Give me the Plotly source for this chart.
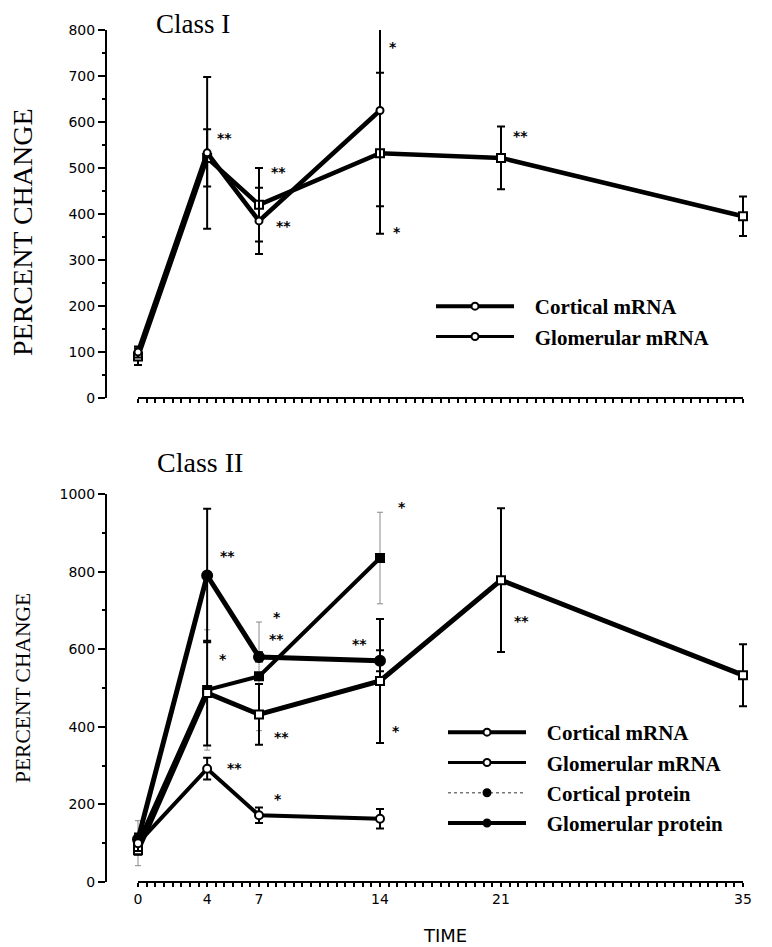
import plotly.graph_objects as go

# ---------------- data ----------------
days = [0, 4, 7, 14, 21, 35]
days_glom = [0, 4, 7, 14]

# Class I
c1_cortical_mrna = [90, 522, 420, 532, 522, 395]
c1_cortical_mrna_err = [18, 62, 80, 175, 68, 43]
c1_glomerular_mrna = [100, 533, 385, 625]
c1_glomerular_mrna_err = [12, 165, 72, 208]

# Class II
c2_cortical_mrna = [82, 487, 432, 518, 778, 533]
c2_cortical_mrna_err = [12, 135, 78, 160, 185, 80]
c2_glomerular_mrna = [100, 292, 172, 163]
c2_glomerular_mrna_err = [20, 28, 20, 25]
c2_cortical_protein = [100, 495, 530, 835]
c2_cortical_protein_err = [58, 155, 140, 118]
c2_glomerular_protein = [110, 790, 580, 570]
c2_glomerular_protein_err = [15, 172, 12, 27]

x_tick_labels = [0, 4, 7, 14, 21, 35]

# significance marks (day, value, text)
c1_marks = [(5.03, 574, "**"), (8.10, 500, "**"), (8.39, 383, "**"),
            (14.75, 772, "*"), (14.98, 370, "*"), (22.10, 578, "**"),
            (36.05, 441, "**")]
c2_marks = [(5.15, 851, "**"), (8.04, 693, "*"), (8.04, 637, "**"),
            (4.92, 585, "*"), (12.84, 624, "**"), (8.33, 384, "**"),
            (5.61, 304, "**"), (8.10, 224, "*"), (15.27, 977, "*"),
            (14.93, 399, "*"), (22.21, 683, "**"), (36.0, 490, "**")]

# ---------------- layout helpers ----------------
OFF = 8                      # page body margin
W, H = 764, 939
ML, MR, MT, MB = 99, 12, 22, 65
PW, PH = W - ML - MR, H - MT - MB


def px_x(p):                 # screen px -> paper x
    return (p - OFF - ML) / PW


def px_y(p):                 # screen px -> paper y
    return (H - MB - (p - OFF)) / PH


DAY_PX = (743 - 138) / 35.0
X0 = -(138 - OFF - ML) / DAY_PX
X1 = X0 + PW / DAY_PX

fig = go.Figure()


def add_series(x, y, err, xa, ya, symbol, size, lw, filled, err_color="black",
               err_w=2, cap=4):
    fig.add_trace(go.Scatter(
        x=x, y=y, xaxis=xa, yaxis=ya, mode="lines+markers", showlegend=False,
        line=dict(color="black", width=lw),
        marker=dict(symbol=symbol, size=size,
                    color="black" if filled else "white",
                    line=dict(color="black", width=2)),
        error_y=dict(type="data", array=err, visible=True, color=err_color,
                     thickness=err_w, width=cap),
        cliponaxis=True,
    ))


# Class I
add_series(days, c1_cortical_mrna, c1_cortical_mrna_err, "x", "y",
           "square", 8, 4.5, False)
add_series(days_glom, c1_glomerular_mrna, c1_glomerular_mrna_err, "x", "y",
           "circle", 7, 4.5, False)

# Class II
add_series(days_glom, c2_cortical_protein, c2_cortical_protein_err, "x2", "y2",
           "square", 8, 4, True, err_color="#8a8a8a", err_w=1, cap=3)
add_series(days_glom, c2_glomerular_protein, c2_glomerular_protein_err, "x2", "y2",
           "circle", 10, 5, True)
add_series(days, c2_cortical_mrna, c2_cortical_mrna_err, "x2", "y2",
           "square", 8, 5, False)
add_series(days_glom, c2_glomerular_mrna, c2_glomerular_mrna_err, "x2", "y2",
           "circle", 8, 4, False)

PAD = "\u00a0\u00a0\u00a0"


# legend samples
def legend_item(name, legend, lw, dash, filled, gray=False, group=None):
    fig.add_trace(go.Scatter(
        x=[None], y=[None], name=PAD + name, legend=legend, mode="lines+markers",
        legendgroup=group or name,
        line=dict(color="#777" if gray else "black", width=lw, dash=dash),
        marker=dict(symbol="circle", size=7,
                    color="black" if filled else "white",
                    line=dict(color="black", width=2)),
    ))


legend_item("Cortical mRNA", "legend", 4, "solid", False, group="a1")
legend_item("Glomerular mRNA", "legend", 3, "solid", False, group="a2")
legend_item("Cortical mRNA", "legend2", 4, "solid", False, group="b1")
legend_item("Glomerular mRNA", "legend2", 3, "solid", False, group="b2")
legend_item("Cortical protein", "legend2", 1.5, "dot", True, gray=True, group="b3")
legend_item("Glomerular protein", "legend2", 4, "solid", True, group="b4")

tick_font = dict(family="DejaVu Sans", size=14, color="black")
half_days = [i * 0.5 for i in range(71)]
tick_text = [str(int(v)) if (v in x_tick_labels) else "" for v in half_days]

xcommon = dict(range=[X0, X1], showline=False, showgrid=False, zeroline=False,
               ticks="outside", ticklen=4, tickwidth=1.5, tickcolor="black",
               tickmode="array", tickvals=half_days, tickfont=tick_font)
ycommon = dict(showline=True, linewidth=2, linecolor="black", showgrid=False,
               zeroline=False, ticks="outside", ticklen=7, tickwidth=2,
               tickcolor="black", tickfont=tick_font)

legend_font = dict(family="Liberation Serif", size=21, color="black",
                   weight="bold")

fig.update_layout(
    width=W, height=H, margin=dict(l=ML, r=MR, t=MT, b=MB),
    paper_bgcolor="white", plot_bgcolor="white",
    xaxis=dict(domain=[0, 1], anchor="y", ticktext=[""] * len(half_days),
               **xcommon),
    yaxis=dict(domain=[px_y(398), 1], anchor="x", range=[0, 800],
               tickmode="array", tickvals=list(range(0, 801, 100)),
               minor=dict(tickmode="array", tickvals=list(range(50, 800, 100)),
                          ticks="outside", ticklen=3, tickwidth=1.5,
                          tickcolor="black"),
               **ycommon),
    xaxis2=dict(domain=[0, 1], anchor="y2", ticktext=tick_text, **xcommon),
    yaxis2=dict(domain=[0, px_y(494)], anchor="x2", range=[0, 1000],
                tickmode="array", tickvals=list(range(0, 1001, 200)),
                minor=dict(tickmode="array", tickvals=list(range(100, 1000, 200)),
                           ticks="outside", ticklen=3, tickwidth=1.5,
                           tickcolor="black"),
                **ycommon),
    legend=dict(x=px_x(431), y=px_y(286), xanchor="left", yanchor="top",
                bgcolor="rgba(0,0,0,0)", itemwidth=78, tracegroupgap=0,
                font=legend_font),
    legend2=dict(x=px_x(443), y=px_y(712), xanchor="left", yanchor="top",
                 bgcolor="rgba(0,0,0,0)", itemwidth=78, tracegroupgap=0,
                 font=legend_font),
)

# detached x axis lines
for xr, yr in (("x", "y domain"), ("x2", "y2 domain")):
    fig.add_shape(type="line", xref=xr, yref=yr, x0=0, x1=35, y0=0, y1=0,
                  line=dict(color="black", width=2))

serif = "Liberation Serif"
annotations = [
    dict(text="Class I", x=px_x(155), y=px_y(OFF), xref="paper", yref="paper",
         xanchor="left", yanchor="top", showarrow=False, borderpad=0,
         font=dict(family=serif, size=27, color="black")),
    dict(text="Class II", x=px_x(155), y=px_y(462), xref="paper", yref="paper",
         xanchor="left", yanchor="middle", showarrow=False,
         font=dict(family=serif, size=28, color="black")),
    dict(text="PERCENT CHANGE", x=px_x(23), y=px_y(232), xref="paper",
         yref="paper", textangle=-90, showarrow=False,
         xanchor="center", yanchor="middle",
         font=dict(family=serif, size=28, color="black")),
    dict(text="PERCENT CHANGE", x=px_x(23), y=px_y(688), xref="paper",
         yref="paper", textangle=-90, showarrow=False,
         xanchor="center", yanchor="middle",
         font=dict(family=serif, size=21.5, color="black")),
    dict(text="TIME", x=px_x(445), y=px_y(936), xref="paper", yref="paper",
         xanchor="center", yanchor="middle", showarrow=False,
         font=dict(family="DejaVu Sans", size=18, color="black")),
]
mark_font = dict(family="DejaVu Sans", size=14, color="black", weight="bold")
for (xv, yv, t) in c1_marks:
    annotations.append(dict(text=t, x=xv, y=yv, xref="x", yref="y",
                            showarrow=False, yshift=-4, font=mark_font))
for (xv, yv, t) in c2_marks:
    annotations.append(dict(text=t, x=xv, y=yv, xref="x2", yref="y2",
                            showarrow=False, yshift=-4, font=mark_font))
fig.update_layout(annotations=annotations)

fig.write_html("out.html")
